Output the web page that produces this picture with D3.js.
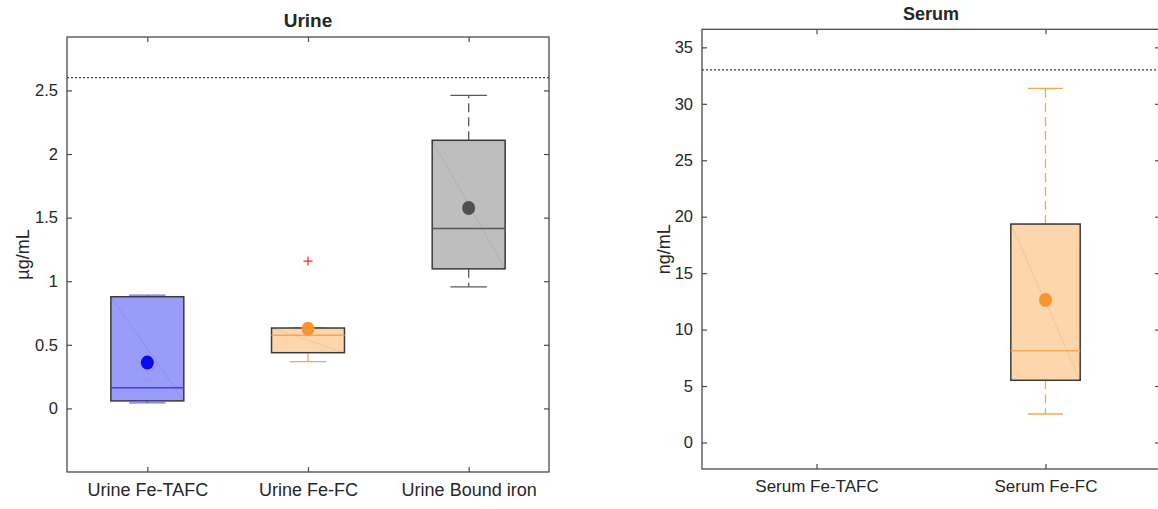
<!DOCTYPE html>
<html>
<head>
<meta charset="utf-8">
<script src="https://cdn.jsdelivr.net/npm/d3@7"></script>
<style>
  html, body { margin: 0; padding: 0; background: #fff; }
  svg { display: block; }
  text { font-family: "Liberation Sans", Arial, Helvetica, sans-serif; fill: #262626; }
</style>
</head>
<body>
<svg id="chart" width="1158" height="509"></svg>
<script>
// ---- Urine panel data (µg/mL) ----
const urineCategories = ["Urine Fe-TAFC", "Urine Fe-FC", "Urine Bound iron"];
const urineLowerWhisker = [0.043, 0.367, 0.956];
const urineQ1 = [0.059, 0.438, 1.097];
const urineMedian = [0.163, 0.575, 1.414];
const urineQ3 = [0.878, 0.632, 2.108];
const urineUpperWhisker = [0.891, 0.632, 2.461];
const urineMean = [0.36, 0.626, 1.576];
const urineOutliers = [[], [1.158], []];
const urineYTicks = [0, 0.5, 1, 1.5, 2, 2.5];
const urineYDomain = [-0.5, 2.92];
const urineLimit = 2.6;

// ---- Serum panel data (ng/mL); no Fe-TAFC measurements ----
const serumCategories = ["Serum Fe-TAFC", "Serum Fe-FC"];
const serumLowerWhisker = [null, 2.52];
const serumQ1 = [null, 5.51];
const serumMedian = [null, 8.13];
const serumQ3 = [null, 19.35];
const serumUpperWhisker = [null, 31.37];
const serumMean = [null, 12.62];
const serumOutliers = [[], []];
const serumYTicks = [0, 5, 10, 15, 20, 25, 30, 35];
const serumYDomain = [-2.35, 36.6];
const serumLimit = 33;

// ---- Colour schemes per group ----
const blueStyle = { fill: "#9b9bfb", median: "#3c3cf5", whisker: "#6a6af5", dot: "#0a0af0", dash: null };
const orangeStyle = { fill: "#fed6ab", median: "#f7a84f", whisker: "#f7a650", dot: "#f79530", dash: "9,5" };
const greyStyle = { fill: "#bebebe", median: "#555555", whisker: "#5a5a5a", dot: "#4f4f4f", dash: "9,5" };

const svg = d3.select("#chart");

function drawPanel(cfg) {
  const g = svg.append("g");
  const n = cfg.categories.length;
  const x = d3.scaleLinear().domain([0.5, n + 0.5]).range([cfg.left, cfg.right]);
  const y = d3.scaleLinear().domain(cfg.yDomain).range([cfg.bottom, cfg.top]);
  const pos = cfg.categories.map((c, i) => i + 1);

  // reference limit (dotted)
  g.append("line")
    .attr("x1", x(0.5)).attr("x2", x(n + 0.5))
    .attr("y1", y(cfg.limit)).attr("y2", y(cfg.limit))
    .attr("stroke", "#3a3a4a").attr("stroke-width", 1.2)
    .attr("stroke-dasharray", "2,2");

  const half = cfg.boxWidth / 2;
  const capHalf = cfg.boxWidth / 4;

  pos.forEach((p, i) => {
    if (cfg.q1[i] == null) return;
    const st = cfg.styles[i];
    const wg = g.append("g");
    // whiskers
    [[cfg.q3[i], cfg.upper[i]], [cfg.q1[i], cfg.lower[i]]].forEach(([a, b]) => {
      wg.append("line")
        .attr("x1", x(p)).attr("x2", x(p)).attr("y1", y(a)).attr("y2", y(b))
        .attr("stroke", st.whisker).attr("stroke-width", 1.3)
        .attr("stroke-dasharray", st.dash);
      wg.append("line")
        .attr("x1", x(p - capHalf)).attr("x2", x(p + capHalf)).attr("y1", y(b)).attr("y2", y(b))
        .attr("stroke", st.whisker).attr("stroke-width", 1.3);
    });
    // box
    g.append("rect")
      .attr("x", x(p - half)).attr("y", y(cfg.q3[i]))
      .attr("width", x(p + half) - x(p - half))
      .attr("height", y(cfg.q1[i]) - y(cfg.q3[i]))
      .attr("fill", st.fill).attr("stroke", "#3a3a3a").attr("stroke-width", 1.5);
    // faint fill seam across the patch
    g.append("line")
      .attr("x1", x(p - half)).attr("y1", y(cfg.q3[i]))
      .attr("x2", x(p + half)).attr("y2", y(cfg.q1[i]))
      .attr("stroke", "#000").attr("stroke-opacity", 0.07).attr("stroke-width", 1);
    // median
    g.append("line")
      .attr("x1", x(p - half)).attr("x2", x(p + half))
      .attr("y1", y(cfg.median[i])).attr("y2", y(cfg.median[i]))
      .attr("stroke", st.median).attr("stroke-width", 1.5);
    // outliers
    cfg.outliers[i].forEach(v => {
      const cx = x(p), cy = y(v);
      g.append("path")
        .attr("d", `M${cx - 4.5},${cy}H${cx + 4.5}M${cx},${cy - 4.5}V${cy + 4.5}`)
        .attr("stroke", "#ff2020").attr("stroke-width", 1.2).attr("fill", "none");
    });
    // mean marker
    g.append("ellipse")
      .attr("cx", x(p)).attr("cy", y(cfg.mean[i]))
      .attr("rx", 6.5).attr("ry", 7)
      .attr("fill", st.dot);
  });

  // axes frame
  const axisColor = "#4a4a4a";
  g.append("rect")
    .attr("x", cfg.left).attr("y", cfg.top)
    .attr("width", cfg.right - cfg.left).attr("height", cfg.bottom - cfg.top)
    .attr("fill", "none").attr("stroke", axisColor).attr("stroke-width", 1.3);

  const styleAxis = size => sel => {
    sel.select(".domain").remove();
    sel.selectAll(".tick line").attr("stroke", axisColor).attr("stroke-width", 1.2);
    sel.selectAll(".tick text").attr("fill", "#262626").style("font-size", size + "px")
      .style("font-family", '"Liberation Sans", Arial, sans-serif');
  };

  g.append("g").attr("transform", `translate(${cfg.left},0)`)
    .call(d3.axisLeft(y).tickValues(cfg.yTicks).tickSize(-5).tickPadding(9).tickFormat(d3.format("")))
    .call(styleAxis(cfg.tickFont));
  g.append("g").attr("transform", `translate(${cfg.right},0)`)
    .call(d3.axisRight(y).tickValues(cfg.yTicks).tickSize(-5).tickFormat(""))
    .call(styleAxis(cfg.tickFont));
  g.append("g").attr("transform", `translate(0,${cfg.bottom})`)
    .call(d3.axisBottom(x).tickValues(pos).tickSize(-5).tickPadding(11).tickFormat(d => cfg.categories[d - 1]))
    .call(styleAxis(cfg.catFont));
  g.append("g").attr("transform", `translate(0,${cfg.top})`)
    .call(d3.axisTop(x).tickValues(pos).tickSize(-5).tickFormat(""))
    .call(styleAxis(cfg.tickFont));

  // title
  g.append("text")
    .attr("x", (cfg.left + cfg.right) / 2).attr("y", cfg.titleY)
    .attr("text-anchor", "middle")
    .style("font-size", cfg.titleFont + "px").style("font-weight", "bold").attr("fill", "#000")
    .text(cfg.title);

  // y label
  g.append("text")
    .attr("transform", `translate(${cfg.ylabelX},${(cfg.top + cfg.bottom) / 2}) rotate(-90)`)
    .attr("text-anchor", "middle")
    .attr("dy", "0.35em")
    .style("font-size", cfg.labelFont + "px")
    .text(cfg.ylabel);
}

drawPanel({
  title: "Urine", titleY: 27, ylabel: "µg/mL", ylabelX: 23,
  left: 67, right: 549, top: 37, bottom: 472,
  tickFont: 16.5, catFont: 18, titleFont: 19, labelFont: 18,
  categories: urineCategories, yDomain: urineYDomain, yTicks: urineYTicks, limit: urineLimit,
  lower: urineLowerWhisker, q1: urineQ1, median: urineMedian, q3: urineQ3,
  upper: urineUpperWhisker, mean: urineMean, outliers: urineOutliers,
  boxWidth: 0.454, styles: [blueStyle, orangeStyle, greyStyle]
});

drawPanel({
  title: "Serum", titleY: 20, ylabel: "ng/mL", ylabelX: 664,
  left: 702, right: 1160, top: 29.3, bottom: 469,
  tickFont: 16.5, catFont: 17, titleFont: 18, labelFont: 18,
  categories: serumCategories, yDomain: serumYDomain, yTicks: serumYTicks, limit: serumLimit,
  lower: serumLowerWhisker, q1: serumQ1, median: serumMedian, q3: serumQ3,
  upper: serumUpperWhisker, mean: serumMean, outliers: serumOutliers,
  boxWidth: 0.303, styles: [orangeStyle, orangeStyle]
});
</script>
</body>
</html>
